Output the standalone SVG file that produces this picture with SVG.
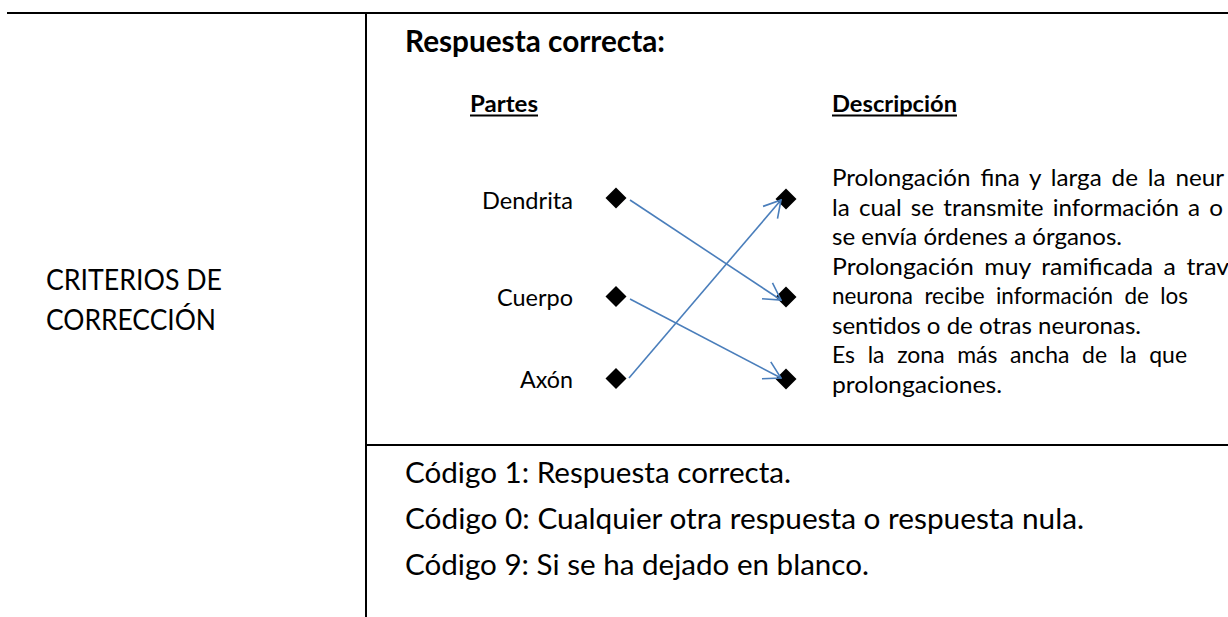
<svg xmlns="http://www.w3.org/2000/svg" width="1228" height="617" viewBox="0 0 1228 617">
<style>
.big{font-family:Lato,"Open Sans",sans-serif;font-size:29.5px;fill:#000}
.bigb{font-family:Lato,"Open Sans",sans-serif;font-size:29.5px;font-weight:bold;fill:#000}
.sm{font-family:Lato,"Open Sans",sans-serif;font-size:23.7px;fill:#000}
.smb{font-family:Lato,"Open Sans",sans-serif;font-size:23.7px;font-weight:bold;fill:#000}
.rule{stroke:#000;stroke-width:2}
.ul{stroke:#000;stroke-width:2}
.dia{fill:#000}
.conn{stroke:#4a7ebb;stroke-width:1.6;fill:none;marker-end:url(#arr)}
</style>
<defs>
<marker id="arr" markerUnits="userSpaceOnUse" markerWidth="20" markerHeight="22" viewBox="0 0 20 22" refX="19" refY="11" orient="auto">
<path d="M2.5,1.5 L19,11 L2.5,20.5" fill="none" stroke="#4a7ebb" stroke-width="1.6"/>
</marker>
</defs>
<rect width="1228" height="617" fill="#fff"/>
<g id="table">
<line class="rule" x1="7" y1="13" x2="1228" y2="13"/>
<line class="rule" x1="366" y1="13" x2="366" y2="617"/>
<line class="rule" x1="366" y1="445" x2="1228" y2="445"/>
</g>
<g id="left-label">
<text class="big" x="46" y="290" textLength="176" lengthAdjust="spacingAndGlyphs">CRITERIOS DE</text>
<text class="big" x="46" y="330" textLength="170" lengthAdjust="spacingAndGlyphs">CORRECCIÓN</text>
</g>
<g id="title">
<text class="bigb" x="405" y="52" textLength="260" lengthAdjust="spacingAndGlyphs">Respuesta correcta:</text>
</g>
<g id="header-partes">
<text class="smb" x="470" y="112" textLength="68" lengthAdjust="spacingAndGlyphs">Partes</text>
<line class="ul" x1="470" y1="115.5" x2="538" y2="115.5"/>
</g>
<g id="header-descripcion">
<text class="smb" x="832" y="112" textLength="125" lengthAdjust="spacingAndGlyphs">Descripción</text>
<line class="ul" x1="832" y1="115.5" x2="957" y2="115.5"/>
</g>
<g id="node-dendrita">
<text class="sm" x="482" y="209" textLength="91" lengthAdjust="spacingAndGlyphs">Dendrita</text>
<polygon class="dia" points="616,187.5 626.5,198 616,208.5 605.5,198"/>
</g>
<g id="node-cuerpo">
<text class="sm" x="497" y="306" textLength="76" lengthAdjust="spacingAndGlyphs">Cuerpo</text>
<polygon class="dia" points="616,286 626.5,296.5 616,307 605.5,296.5"/>
</g>
<g id="node-axon">
<text class="sm" x="520" y="388" textLength="53" lengthAdjust="spacingAndGlyphs">Axón</text>
<polygon class="dia" points="616,368 626.5,378.5 616,389 605.5,378.5"/>
</g>
<g id="node-desc1">
<polygon class="dia" points="786,188.5 796.5,199 786,209.5 775.5,199"/>
<text class="sm" x="832" y="186" textLength="392" lengthAdjust="spacingAndGlyphs" word-spacing="3.6">Prolongación fina y larga de la neur</text>
<text class="sm" x="832" y="215.5" textLength="391" lengthAdjust="spacingAndGlyphs" word-spacing="2.9">la cual se transmite información a o</text>
<text class="sm" x="832" y="245" textLength="290" lengthAdjust="spacingAndGlyphs">se envía órdenes a órganos.</text>
</g>
<g id="node-desc2">
<polygon class="dia" points="786,286.5 796.5,297 786,307.5 775.5,297"/>
<text class="sm" x="832" y="274.5" textLength="397" lengthAdjust="spacingAndGlyphs" word-spacing="4">Prolongación muy ramificada a trav</text>
<text class="sm" x="832" y="304" textLength="356" lengthAdjust="spacingAndGlyphs" word-spacing="6">neurona recibe información de los</text>
<text class="sm" x="832" y="333.5" textLength="309" lengthAdjust="spacingAndGlyphs">sentidos o de otras neuronas.</text>
</g>
<g id="node-desc3">
<polygon class="dia" points="786,368.5 796.5,379 786,389.5 775.5,379"/>
<text class="sm" x="832" y="363" textLength="355" lengthAdjust="spacingAndGlyphs" word-spacing="7">Es la zona más ancha de la que</text>
<text class="sm" x="832" y="392.5" textLength="170" lengthAdjust="spacingAndGlyphs">prolongaciones.</text>
</g>
<g id="connectors">
<line class="conn" x1="630" y1="200" x2="781" y2="300"/>
<line class="conn" x1="630" y1="299" x2="781" y2="378"/>
<line class="conn" x1="629" y1="378" x2="781" y2="200"/>
</g>
<g id="codes">
<text class="big" x="405" y="483" textLength="386" lengthAdjust="spacingAndGlyphs">Código 1: Respuesta correcta.</text>
<text class="big" x="405" y="529" textLength="679" lengthAdjust="spacingAndGlyphs">Código 0: Cualquier otra respuesta o respuesta nula.</text>
<text class="big" x="405" y="575" textLength="464" lengthAdjust="spacingAndGlyphs">Código 9: Si se ha dejado en blanco.</text>
</g>
</svg>
